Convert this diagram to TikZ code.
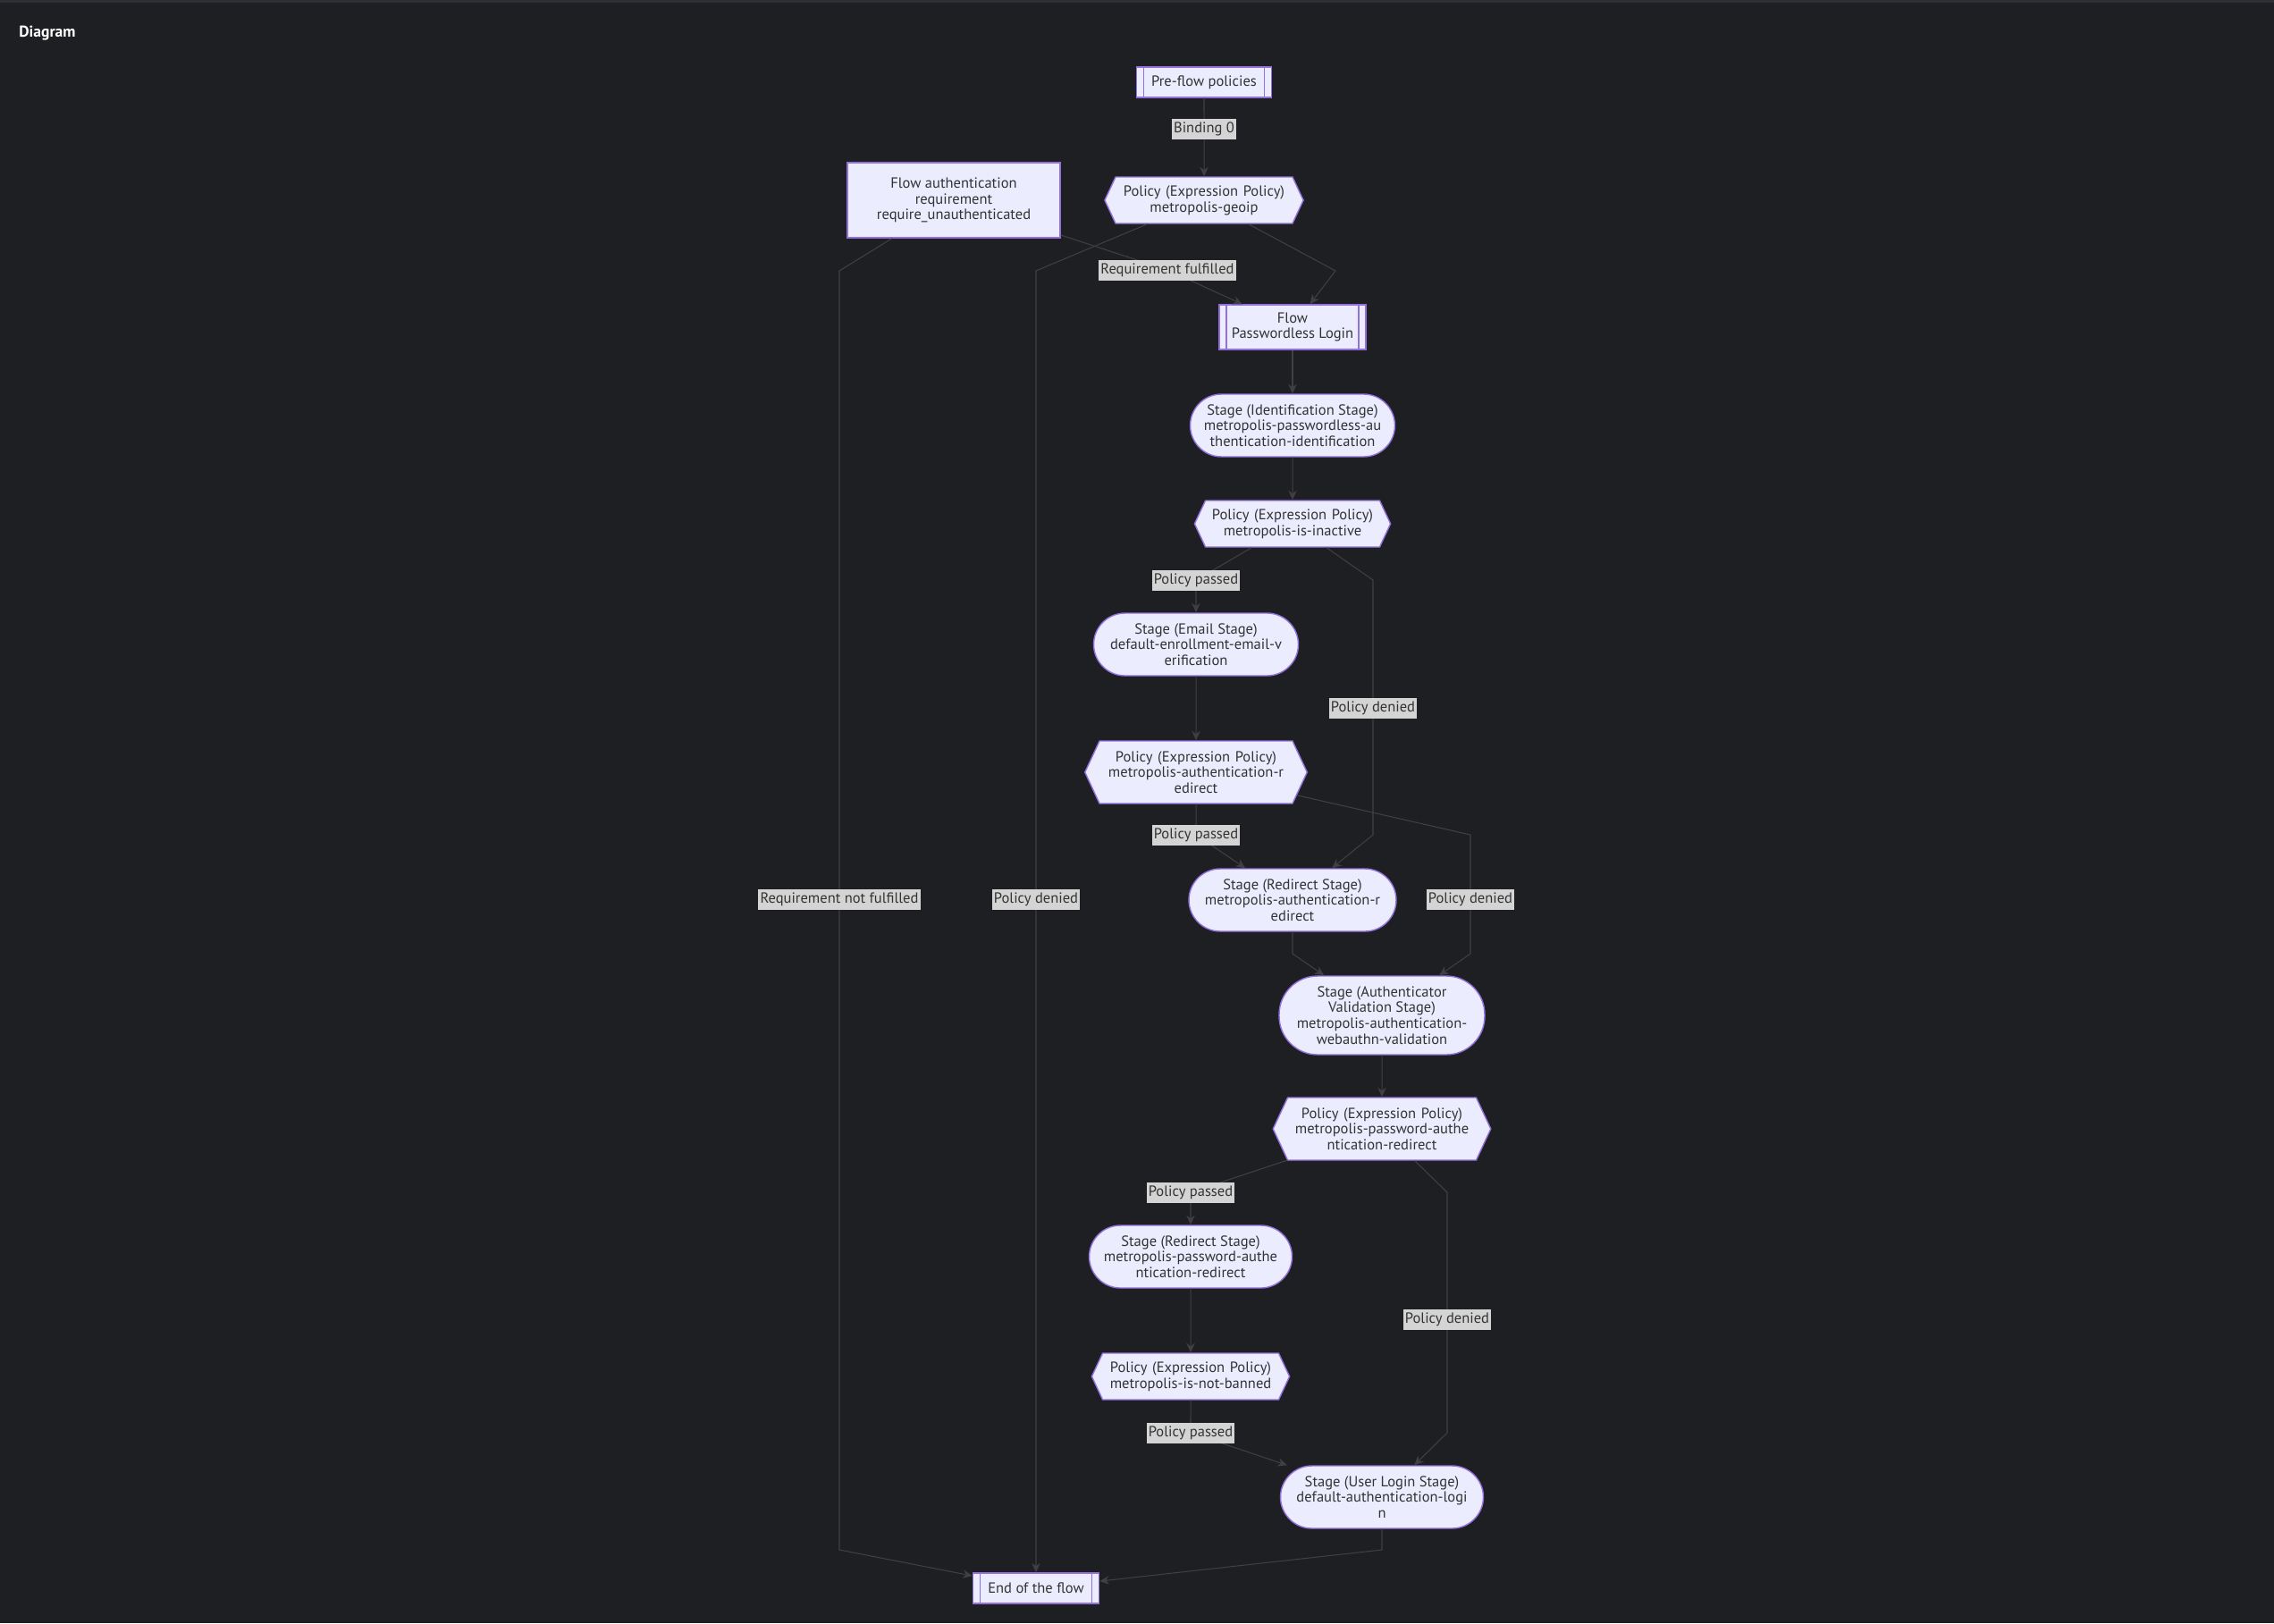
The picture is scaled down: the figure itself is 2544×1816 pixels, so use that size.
\documentclass[tikz,border=0pt]{standalone}
\usepackage{fontspec}
\setmainfont{PT Sans}
\usetikzlibrary{shapes.symbols,arrows.meta}
\definecolor{bgc}{RGB}{30,31,35}
\definecolor{topc}{RGB}{46,47,52}
\definecolor{fillc}{RGB}{236,236,255}
\definecolor{strokec}{RGB}{147,112,219}
\definecolor{txtc}{RGB}{51,51,51}
\definecolor{linec}{RGB}{64,64,68}
\definecolor{lblc}{RGB}{212,212,212}

\begin{document}
\begin{tikzpicture}[x=0.02cm,y=-0.02cm,>={Stealth[length=6pt,width=5.4pt]},
  every node/.style={font=\fontsize{9.4}{10.1}\selectfont,text=txtc,align=center},
  box node/.style={rectangle,draw=strokec,fill=fillc,line width=0.8pt,inner sep=0pt},
  sub node/.style={box node,path picture={
      \draw[strokec,line width=0.8pt]
        ([xshift=0.16cm]path picture bounding box.north west) -- ([xshift=0.16cm]path picture bounding box.south west)
        ([xshift=-0.16cm]path picture bounding box.north east) -- ([xshift=-0.16cm]path picture bounding box.south east);}},
  stage node/.style={box node,rounded corners=0.7cm,minimum height=1.4cm},
  policy node/.style={signal,signal to=west and east,signal pointer angle=130,draw=strokec,fill=fillc,line width=0.8pt,inner xsep=0pt,inner ysep=0pt},
  lbl/.style={fill=lblc,inner xsep=1.2pt,inner ysep=0pt,minimum height=0.46cm},
  link/.style={draw=linec,line width=0.6pt,->}]

  \fill[bgc] (0,0) rectangle (2544,1816);
  \fill[topc] (0,0) rectangle (2544,3);
  \node[anchor=west,inner sep=0pt,text=white,font=\fontsize{10}{12}\selectfont\bfseries] (title) at (21,37) {Diagram};

  \node[sub node,minimum width=3.02cm,minimum height=0.68cm] (1) at (1347,92) {Pre-flow policies};
  \node[box node,minimum width=4.76cm,minimum height=1.68cm] (2) at (1067,224) {Flow authentication\\requirement\\require\_unauthenticated};
  \node[policy node,text width=3.96cm,minimum height=1.04cm] (3) at (1347,224) {Policy (Expression Policy)\\metropolis-geoip};
  \node[sub node,minimum width=3.28cm,minimum height=1.0cm] (4) at (1446,366) {Flow\\Passwordless Login};
  \node[stage node,minimum width=4.58cm] (5) at (1446,476) {Stage (Identification Stage)\\metropolis-passwordless-au\\thentication-identification};
  \node[policy node,text width=3.9cm,minimum height=1.04cm] (6) at (1446,586) {Policy (Expression Policy)\\metropolis-is-inactive};
  \node[stage node,minimum width=4.58cm] (7) at (1338,721) {Stage (Email Stage)\\default-enrollment-email-v\\erification};
  \node[policy node,text width=4.32cm,minimum height=1.4cm] (8) at (1338,864) {Policy (Expression Policy)\\metropolis-authentication-r\\edirect};
  \node[stage node,minimum width=4.64cm] (9) at (1446,1007) {Stage (Redirect Stage)\\metropolis-authentication-r\\edirect};
  \node[stage node,minimum width=4.6cm,minimum height=1.76cm,rounded corners=0.86cm] (10) at (1546,1136) {Stage (Authenticator\\Validation Stage)\\metropolis-authentication-\\webauthn-validation};
  \node[policy node,text width=4.22cm,minimum height=1.4cm] (11) at (1546,1263) {Policy (Expression Policy)\\metropolis-password-authe\\ntication-redirect};
  \node[stage node,minimum width=4.54cm] (12) at (1332,1406) {Stage (Redirect Stage)\\metropolis-password-authe\\ntication-redirect};
  \node[policy node,text width=3.94cm,minimum height=1.04cm] (13) at (1332,1540) {Policy (Expression Policy)\\metropolis-is-not-banned};
  \node[stage node,minimum width=4.54cm] (14) at (1546,1675) {Stage (User Login Stage)\\default-authentication-logi\\n};
  \node[sub node,minimum width=2.82cm,minimum height=0.68cm] (15) at (1159,1777) {End of the flow};

  \draw[link] (1) to node[lbl,pos=0.4] (e1) {Binding 0} (3);
  \draw[link] (2) -- (1306,302) node[lbl] (e2) {Requirement fulfilled} -- (4);
  \draw[link] (2) -- (939,303) -- (939,1006) node[lbl] (e3) {Requirement not fulfilled} -- (939,1734) -- (15);
  \draw[link] (3) -- (1159,303) -- (1159,1006) node[lbl] (e4) {Policy denied} -- (15);
  \draw[link] (3) -- (1494,303) -- (4);
  \draw[link] (4) to (5);
  \draw[link] (5) to (6);
  \draw[link] (6) -- (1338,649) node[lbl] (e5) {Policy passed} -- (7);
  \draw[link] (6) -- (1536,649) -- (1536,792) node[lbl] (e6) {Policy denied} -- (1536,934) -- (9);
  \draw[link] (7) to (8);
  \draw[link] (8) -- (1338,934) node[lbl] (e7) {Policy passed} -- (9);
  \draw[link] (8) -- (1645,934) -- (1645,1006) node[lbl] (e8) {Policy denied} -- (1645,1067) -- (10);
  \draw[link] (9) -- (1446,1067) -- (10);
  \draw[link] (10) to (11);
  \draw[link] (11) -- (1332,1334) node[lbl] (e9) {Policy passed} -- (12);
  \draw[link] (11) -- (1619,1334) -- (1619,1476) node[lbl] (e10) {Policy denied} -- (1619,1603) -- (14);
  \draw[link] (12) to (13);
  \draw[link] (13) -- (1332,1603) node[lbl] (e11) {Policy passed} -- (14);
  \draw[link] (14) -- (1546,1734) -- (15);
\end{tikzpicture}
\end{document}
